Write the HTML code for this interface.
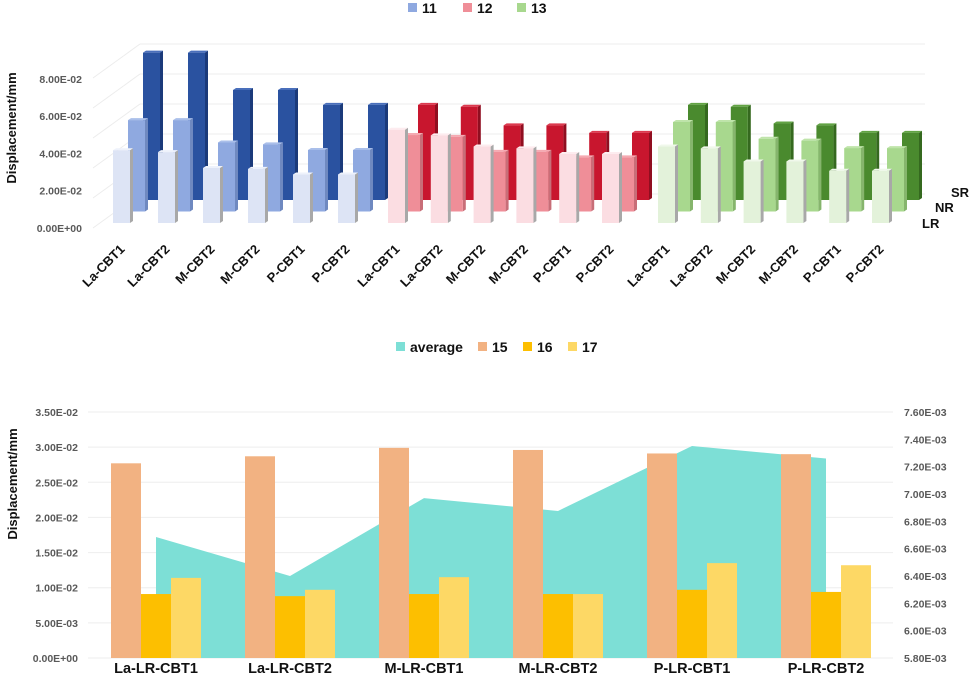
<!DOCTYPE html>
<html><head><meta charset="utf-8"><style>
body{margin:0;background:#fff;}
svg{display:block;font-family:"Liberation Sans",sans-serif;}
.t{font-weight:bold;fill:#595959;font-size:10.5px;}
.c{font-weight:bold;fill:#111;}
</style></head><body>
<svg id="s" width="969" height="686" viewBox="0 0 969 686">
<g id="topg"></g>
<g id="botg"></g>
</svg>
<script>
// ===== Top 3D chart data =====
const topCats = ["La-CBT1","La-CBT2","M-CBT2","M-CBT2","P-CBT1","P-CBT2"];
const topGroups = ["11","12","13"];
const rows = ["LR","NR","SR"];
const blueLR = [0.039,0.038,0.0295,0.029,0.026,0.026];
const blueNR = [0.049,0.049,0.037,0.036,0.033,0.033];
const blueSR = [0.079,0.079,0.059,0.059,0.051,0.051];
const redLR = [0.050,0.047,0.041,0.040,0.037,0.037];
const redNR = [0.041,0.040,0.032,0.032,0.029,0.029];
const redSR = [0.051,0.050,0.040,0.040,0.036,0.036];
const greenLR = [0.041,0.040,0.033,0.033,0.028,0.028];
const greenNR = [0.048,0.048,0.039,0.038,0.034,0.034];
const greenSR = [0.051,0.050,0.041,0.040,0.036,0.036];
const topTicks = ["0.00E+00","2.00E-02","4.00E-02","6.00E-02","8.00E-02"];
const topTickVals = [0,0.02,0.04,0.06,0.08];

// ===== Bottom chart data =====
const botCats = ["La-LR-CBT1","La-LR-CBT2","M-LR-CBT1","M-LR-CBT2","P-LR-CBT1","P-LR-CBT2"];
const avgVals = [6.685e-3,6.40e-3,6.97e-3,6.876e-3,7.351e-3,7.26e-3];
const s15 = [0.0277,0.0287,0.0299,0.0296,0.0291,0.0290];
const s16 = [0.0091,0.0088,0.0091,0.0091,0.0097,0.0094];
const s17 = [0.0114,0.0097,0.0115,0.0091,0.0135,0.0132];
const leftTicks = [0,0.005,0.01,0.015,0.02,0.025,0.03,0.035];
const leftLabels = ["0.00E+00","5.00E-03","1.00E-02","1.50E-02","2.00E-02","2.50E-02","3.00E-02","3.50E-02"];
const rightTicks = [5.8e-3,6.0e-3,6.2e-3,6.4e-3,6.6e-3,6.8e-3,7.0e-3,7.2e-3,7.4e-3,7.6e-3];
const rightLabels = ["5.80E-03","6.00E-03","6.20E-03","6.40E-03","6.60E-03","6.80E-03","7.00E-03","7.20E-03","7.40E-03","7.60E-03"];

const NS="http://www.w3.org/2000/svg";
function mk(parent,tag,attrs,text){const e=document.createElementNS(NS,tag);for(const k in attrs)e.setAttribute(k,attrs[k]);if(text!==undefined)e.textContent=text;parent.appendChild(e);return e;}

// ---------- TOP ----------
const topG=document.getElementById('topg');
const scaleT=1865;
const yTop=v=>228-v*scaleT;
for(let k=0;k<6;k++){
  const y=194-k*30;
  const l=mk(topG,'line',{x1:140,x2:925,y1:y,y2:y,stroke:'#ececec','stroke-width':1});
  
  
  const d=mk(topG,'line',{x1:93,x2:140,y1:y+34,y2:y,stroke:'#ececec','stroke-width':1});
  
  
}
topTickVals.forEach((v,i)=>{
  const t=mk(topG,'text',{x:82,y:yTop(v)+4,'text-anchor':'end',class:'t'},topTicks[i]);
  
  
});
const yt=mk(topG,'text',{x:0,y:0,transform:'translate(16,128) rotate(-90)','text-anchor':'middle',class:'c','font-size':'13'},'Displacement/mm');



const groupData=[[blueLR,blueNR,blueSR],[redLR,redNR,redSR],[greenLR,greenNR,greenSR]];
const groupColors=[
 [['#dde4f5','#a8a8a8','#eef2fb'],['#8fa9e0','#6f89c0','#aabfea'],['#2a52a0','#1b3a7a','#4a6fbb']],
 [['#fbdde2','#a8a8a8','#fdecef'],['#ef8e98','#c86e78','#f5aab2'],['#c8162e','#900e20','#dc3a4f']],
 [['#e3f2da','#a8a8a8','#f0f8eb'],['#a8d88e','#86b56d','#bfe4aa'],['#4a8a2e','#35691f','#62a344']]];
const groupStart=[113,388,658];
const groupStep=[45,42.8,42.8];
const bw=17, dx=15, dy=11.5;
for(let r=2;r>=0;r--){
  for(let g=0;g<3;g++){
    const vals=groupData[g][r], col=groupColors[g][r];
    vals.forEach((v,i)=>{
      const x=groupStart[g]+i*groupStep[g]+r*dx;
      const base=223-r*dy;
      const h=v*scaleT;
      const gg=mk(topG,'g',{});
      
      
      mk(gg,'polygon',{points:`${x+bw},${base-h} ${x+bw+3},${base-h-2} ${x+bw+3},${base-2} ${x+bw},${base}`,fill:col[1]});
      mk(gg,'polygon',{points:`${x},${base-h} ${x+3},${base-h-2} ${x+bw+3},${base-h-2} ${x+bw},${base-h}`,fill:col[2]});
      mk(gg,'rect',{x:x,y:base-h,width:bw,height:h,fill:col[0]});
    });
  }
}
for(let g=0;g<3;g++){
  topCats.forEach((c,i)=>{
    const cx=groupStart[g]+i*groupStep[g]+bw/2+4;
    const t=mk(topG,'text',{x:0,y:0,transform:`translate(${cx},250) rotate(-45)`,'text-anchor':'end',class:'c','font-size':'13'},c);
    
    
  });
}
[[922,228,'LR'],[935,212,'NR'],[951,197,'SR']].forEach(a=>{
  const t=mk(topG,'text',{x:a[0],y:a[1],class:'c','font-size':'13'},a[2]);
  
  
});
[[408,'#8fa9e0','11'],[463,'#ef8e98','12'],[517,'#a8d88e','13']].forEach(a=>{
  const lg=mk(topG,'g',{});
  
  
  mk(lg,'rect',{x:a[0],y:3,width:9,height:9,fill:a[1]});
  mk(lg,'text',{x:a[0]+14,y:13,class:'c','font-size':'14'},a[2]);
});

// ---------- BOTTOM ----------
const botG=document.getElementById('botg');
const y0=658,y1=412,x0=88,x1=893;
const yL=v=>y0-(v/0.035)*(y0-y1);
const yR=v=>y0-((v-5.8e-3)/(1.8e-3))*(y0-y1);
const cxB=i=>156+i*134;
leftTicks.forEach((v,i)=>{
  const l=mk(botG,'line',{x1:x0,x2:x1,y1:yL(v),y2:yL(v),stroke:'#eeeeee'});
  
  
  const t=mk(botG,'text',{x:78,y:yL(v)+4,'text-anchor':'end',class:'t'},leftLabels[i]);
  
  
});
rightTicks.forEach((v,i)=>{
  const t=mk(botG,'text',{x:904,y:yR(v)+4,class:'t'},rightLabels[i]);
  
  
});
let pts=`${cxB(0)},${y0} `;
avgVals.forEach((v,i)=>{pts+=`${cxB(i)},${yR(v)} `;});
pts+=`${cxB(avgVals.length-1)},${y0}`;
const ar=mk(botG,'polygon',{points:pts,fill:'#7ddfd6'});


const bwB=30;
[[s15,'#f2b282','15'],[s16,'#fdbf00','16'],[s17,'#fdd865','17']].forEach((s,k)=>{
  s[0].forEach((v,i)=>{
    const x=cxB(i)-45+k*bwB;
    const r=mk(botG,'rect',{x:x,y:yL(v),width:bwB,height:y0-yL(v),fill:s[1]});
    
    
  });
});
botCats.forEach((c,i)=>{
  const t=mk(botG,'text',{x:cxB(i),y:673,'text-anchor':'middle',class:'c','font-size':'14.5'},c);
  
  
});
const yt2=mk(botG,'text',{x:0,y:0,transform:'translate(17,484) rotate(-90)','text-anchor':'middle',class:'c','font-size':'13'},'Displacement/mm');


[[396,'#7ddfd6','average'],[478,'#f2b282','15'],[523,'#fdbf00','16'],[568,'#fdd865','17']].forEach(a=>{
  const lg=mk(botG,'g',{});
  
  
  mk(lg,'rect',{x:a[0],y:342,width:9,height:9,fill:a[1]});
  mk(lg,'text',{x:a[0]+14,y:352,class:'c','font-size':'14'},a[2]);
});
</script>
</body></html>
